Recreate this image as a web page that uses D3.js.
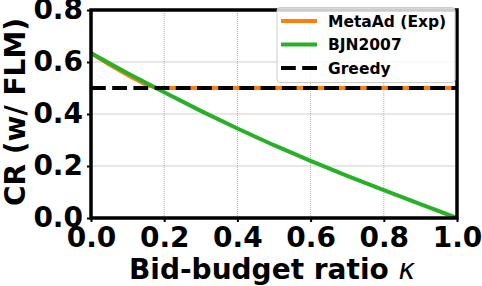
<!DOCTYPE html>
<html>
<head>
<meta charset="utf-8">
<script src="https://cdn.jsdelivr.net/npm/d3@7"></script>
<style>
  body { margin: 0; background: #fff; }
  text { font-family: "DejaVu Sans", sans-serif; font-weight: bold; }
</style>
</head>
<body>
<script>
// data
var metaKappa = [0, 0.05, 0.1, 0.15, 0.18, 0.2, 0.4, 0.6, 0.8, 1.0];
var metaCR    = [0.634, 0.590, 0.550, 0.513, 0.5, 0.5, 0.5, 0.5, 0.5, 0.5];
var bjnKappa  = [0, 0.05, 0.1, 0.15, 0.2, 0.3, 0.4, 0.5, 0.6, 0.7, 0.8, 0.9, 1.0];
var bjnCR     = [0.635, 0.595, 0.557, 0.520, 0.484, 0.412, 0.344, 0.280, 0.220, 0.162, 0.107, 0.053, 0.0];
var greedyKappa = [0, 1];
var greedyCR    = [0.5, 0.5];
var xTicks = [0, 0.2, 0.4, 0.6, 0.8, 1.0];
var yTicks = [0, 0.2, 0.4, 0.6, 0.8];
var seriesNames = ["MetaAd (Exp)", "BJN2007", "Greedy"];

var w = 482, h = 286;

var svg = d3.select("body").append("svg")
    .attr("width", w)
    .attr("height", h);

var x = d3.scaleLinear().domain([0, 1]).range([91, 457]);
var y = d3.scaleLinear().domain([0, 0.8]).range([218, 10]);

// grid
svg.append("g").selectAll("line").data(yTicks).enter().append("line")
    .attr("x1", x(0)).attr("x2", x(1))
    .attr("y1", function(d) { return y(d); })
    .attr("y2", function(d) { return y(d); })
    .attr("stroke", "#cfcfcf").attr("stroke-width", 1);
svg.append("g").selectAll("line").data(xTicks).enter().append("line")
    .attr("y1", y(0)).attr("y2", y(0.8))
    .attr("x1", function(d) { return x(d); })
    .attr("x2", function(d) { return x(d); })
    .attr("stroke", "#b0b0b0").attr("stroke-width", 1)
    .attr("stroke-dasharray", "1,1");

svg.append("clipPath").attr("id", "clip").append("rect")
    .attr("x", x(0)).attr("y", y(0.8))
    .attr("width", x(1) - x(0)).attr("height", y(0) - y(0.8));

var line = d3.line()
    .x(function(d) { return x(d[0]); })
    .y(function(d) { return y(d[1]); });

var series = [
  {k: metaKappa, v: metaCR, color: "#ff7f0e", dash: null},
  {k: bjnKappa, v: bjnCR, color: "#28b028", dash: null},
  {k: greedyKappa, v: greedyCR, color: "#000000", dash: "14.8,6.4"}
];

var plot = svg.append("g").attr("clip-path", "url(#clip)");
series.forEach(function(s) {
  plot.append("path")
      .datum(d3.zip(s.k, s.v))
      .attr("d", line)
      .attr("fill", "none")
      .attr("stroke", s.color)
      .attr("stroke-width", 4)
      .attr("stroke-dasharray", s.dash);
});

// axes
var xAxis = d3.axisBottom(x).tickValues(xTicks).tickFormat(d3.format(".1f")).tickSize(4).tickPadding(5);
var yAxis = d3.axisLeft(y).tickValues(yTicks).tickFormat(d3.format(".1f")).tickSize(4).tickPadding(4);

var gX = svg.append("g").attr("transform", "translate(0," + y(0) + ")").call(xAxis);
var gY = svg.append("g").attr("transform", "translate(" + x(0) + ",0)").call(yAxis);
[gX, gY].forEach(function(g) {
  g.select(".domain").remove();
  g.selectAll("line").attr("stroke", "#000").attr("stroke-width", 2);
  g.selectAll("text").attr("font-size", 28).attr("fill", "#000")
      .style("font-family", "DejaVu Sans").style("font-weight", "bold");
});

// spines
svg.append("rect")
    .attr("x", x(0)).attr("y", y(0.8))
    .attr("width", x(1) - x(0)).attr("height", y(0) - y(0.8))
    .attr("fill", "none").attr("stroke", "#000").attr("stroke-width", 3.5);

// axis labels
var xl = svg.append("text")
    .attr("x", 272).attr("y", 279)
    .attr("text-anchor", "middle")
    .attr("font-size", 28);
xl.append("tspan").text("Bid-budget ratio ");
xl.append("tspan").text("κ").style("font-style", "italic").style("font-weight", "normal");

svg.append("text")
    .attr("transform", "translate(25,112) rotate(-90)")
    .attr("text-anchor", "middle")
    .attr("font-size", 28)
    .text("CR (w/ FLM)");

// legend
var lg = svg.append("g");
lg.append("rect")
    .attr("x", 277).attr("y", 7.5).attr("width", 178).attr("height", 75)
    .attr("rx", 3)
    .attr("fill", "#fff").attr("fill-opacity", 0.8)
    .attr("stroke", "#cccccc").attr("stroke-width", 1);
series.forEach(function(s, i) {
  var ly = 21 + i * 23.5;
  lg.append("line")
      .attr("x1", 281).attr("x2", 317)
      .attr("y1", ly).attr("y2", ly)
      .attr("stroke", s.color).attr("stroke-width", 4)
      .attr("stroke-dasharray", s.dash);
  lg.append("text")
      .attr("x", 328).attr("y", ly + 5.5)
      .attr("font-size", 15.5)
      .text(seriesNames[i]);
});
</script>
</body>
</html>
